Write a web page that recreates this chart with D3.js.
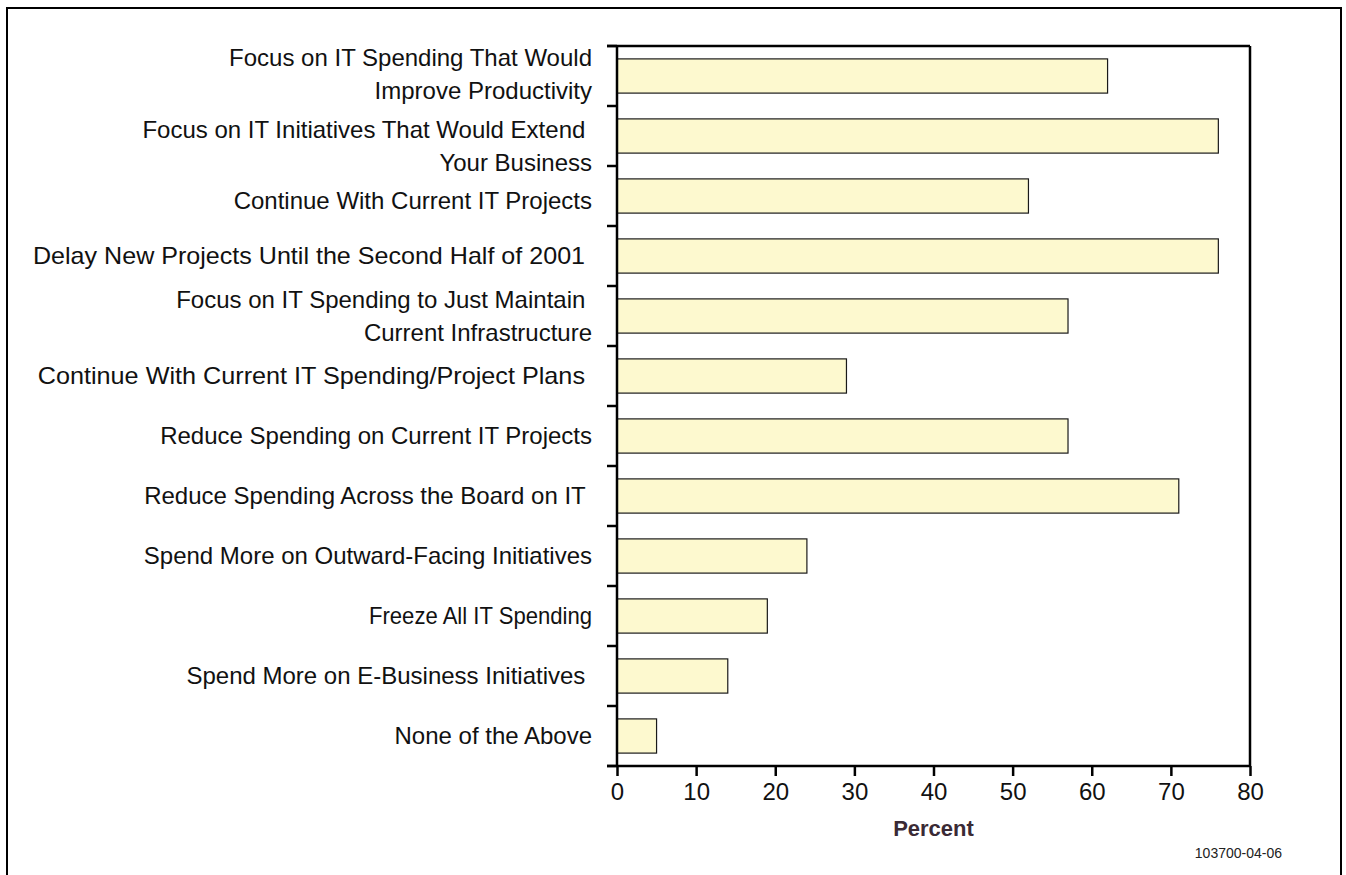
<!DOCTYPE html>
<html>
<head>
<meta charset="utf-8">
<script src="https://cdn.jsdelivr.net/npm/d3@7"></script>
<style>
  body { margin: 0; background: #fff; }
  svg { display: block; }
  text { font-family: "Liberation Sans", Arial, Helvetica, sans-serif; fill: #111; }
</style>
</head>
<body>
<svg id="chart" width="1346" height="875"></svg>
<script>
// Survey responses: planned IT spending actions (percent of respondents)
const categories = [
  "Focus on IT Spending That Would\nImprove Productivity",
  "Focus on IT Initiatives That Would Extend \nYour Business",
  "Continue With Current IT Projects",
  "Delay New Projects Until the Second Half of 2001 ",
  "Focus on IT Spending to Just Maintain \nCurrent Infrastructure",
  "Continue With Current IT Spending/Project Plans ",
  "Reduce Spending on Current IT Projects",
  "Reduce Spending Across the Board on IT ",
  "Spend More on Outward-Facing Initiatives",
  "Freeze All IT Spending",
  "Spend More on E-Business Initiatives ",
  "None of the Above"
];
const percents = [62, 76, 52, 76, 57, 29, 57, 71, 24, 19, 14, 5];
const xTicks = [0, 10, 20, 30, 40, 50, 60, 70, 80];
const xTitle = "Percent";
const chartCode = "103700-04-06";

// Layout
const plot = { left: 617, right: 1250, top: 46, bottom: 766 };
const tickLen = 10;
const labelFont = 24;
const lineGap = 33;
// small per-label tweaks: vertical nudge and horizontal stretch
const labelNudge = { 0: -2, 1: 10, 2: 5 };
const labelStretch = { 3: 1.045, 5: 1.05, 9: 0.92 };

const svg = d3.select("#chart");

// outer border
svg.append("rect")
  .attr("x", 7).attr("y", 8)
  .attr("width", 1334).attr("height", 890)
  .attr("fill", "none").attr("stroke", "#000").attr("stroke-width", 2);

const x = d3.scaleLinear().domain([0, 80]).range([plot.left, plot.right]);
const y = d3.scaleBand().domain(categories).range([plot.top, plot.bottom])
  .paddingInner(0.43).paddingOuter(0.215);

// bars
svg.append("g").selectAll("rect")
  .data(categories)
  .join("rect")
  .attr("x", x(0))
  .attr("y", d => y(d))
  .attr("width", (d, i) => x(percents[i]) - x(0))
  .attr("height", y.bandwidth())
  .attr("fill", "#fdf9cf")
  .attr("stroke", "#1a1a1a")
  .attr("stroke-width", 1.2);

// category boundary ticks on the left axis
const step = y.step();
const bounds = categories.map(c => y(c) - step * y.paddingOuter());
bounds.push(plot.bottom);
svg.append("g").selectAll("line")
  .data(bounds)
  .join("line")
  .attr("x1", plot.left - tickLen).attr("x2", plot.left)
  .attr("y1", d => d).attr("y2", d => d)
  .attr("stroke", "#000").attr("stroke-width", 2.5);

// plot frame
const frame = svg.append("g").attr("stroke", "#000").attr("stroke-width", 2.5).attr("fill", "none");
frame.append("line").attr("x1", plot.left).attr("x2", plot.left).attr("y1", plot.top).attr("y2", plot.bottom);
frame.append("line").attr("x1", plot.right).attr("x2", plot.right).attr("y1", plot.top).attr("y2", plot.bottom);
frame.append("line").attr("x1", plot.left - tickLen).attr("x2", plot.right).attr("y1", plot.top).attr("y2", plot.top);

// bottom axis
const xAxis = d3.axisBottom(x).tickValues(xTicks).tickSize(tickLen).tickSizeOuter(0).tickPadding(7);
const gx = svg.append("g").attr("transform", `translate(0,${plot.bottom})`).call(xAxis);
gx.select(".domain").remove();
gx.selectAll(".tick line").attr("stroke", "#000").attr("stroke-width", 2.5);
gx.selectAll(".tick text")
  .attr("font-family", "'Liberation Sans', Arial, sans-serif")
  .attr("font-size", labelFont).attr("fill", "#111");
gx.append("line")
  .attr("x1", plot.left - tickLen).attr("x2", plot.right)
  .attr("y1", 0).attr("y2", 0)
  .attr("stroke", "#000").attr("stroke-width", 2.5);

// category labels
const labels = svg.append("g").attr("text-anchor", "end").attr("font-size", labelFont);
categories.forEach((c, i) => {
  const lines = c.split("\n");
  const cy = y(c) + y.bandwidth() / 2 + (labelNudge[i] || 0);
  const t = labels.append("text")
    .attr("x", plot.left - 25)
    .attr("y", cy - (lines.length - 1) * lineGap / 2)
    .attr("xml:space", "preserve")
    .style("white-space", "pre");
  lines.forEach((ln, j) => {
    const ts = t.append("tspan")
      .attr("x", plot.left - 25)
      .attr("dy", j === 0 ? "0.35em" : lineGap)
      .text(ln);
    if (labelStretch[i]) {
      const w = ts.node().getComputedTextLength();
      ts.attr("textLength", w * labelStretch[i]).attr("lengthAdjust", "spacingAndGlyphs");
    }
  });
});

// axis title
svg.append("text")
  .attr("x", (plot.left + plot.right) / 2)
  .attr("y", 836)
  .attr("text-anchor", "middle")
  .attr("font-size", 22)
  .attr("font-weight", "bold")
  .style("fill", "#3a2a35")
  .text(xTitle);

// chart code
svg.append("text")
  .attr("x", 1282)
  .attr("y", 858)
  .attr("text-anchor", "end")
  .attr("font-size", 14)
  .style("fill", "#222")
  .text(chartCode);
</script>
</body>
</html>
